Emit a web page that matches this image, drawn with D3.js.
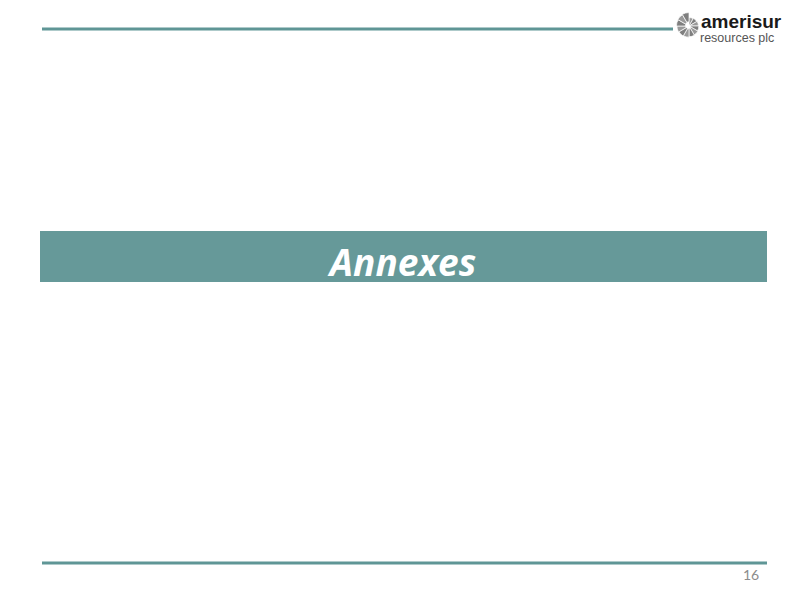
<!DOCTYPE html>
<html lang="en">
<head>
    <meta charset="UTF-8">
    <title>Annexes</title>
    <script src="https://cdn.jsdelivr.net/npm/d3@7"></script>
    <style>
        body { margin: 0; background: #fff; }
    </style>
</head>
<body>
    <svg width="800" height="600"></svg>
    <script>
        // slide content
        const title = ['Annexes']
        const pageNumber = ['16']
        const logoWords = ['amerisur', 'resources plc']
        const shellSegments = [0, 1, 2, 3, 4, 5, 6, 7, 8, 9, 10, 11]

        const teal = '#669999'
        const svg = d3.select('svg')

        // top and bottom rules
        const rules = [
            { x1: 42, x2: 673, y: 29 },
            { x1: 42, x2: 767, y: 563 }
        ]
        svg.selectAll('line.rule')
            .data(rules)
            .join('line')
            .attr('class', 'rule')
            .attr('x1', d => d.x1)
            .attr('x2', d => d.x2)
            .attr('y1', d => d.y)
            .attr('y2', d => d.y)
            .attr('stroke', '#5f9696')
            .attr('stroke-width', 3)

        // banner
        svg.append('rect')
            .attr('x', 40)
            .attr('y', 231)
            .attr('width', 727)
            .attr('height', 51)
            .attr('fill', teal)

        svg.selectAll('text.title')
            .data(title)
            .join('text')
            .attr('class', 'title')
            .attr('x', 403)
            .attr('y', 276)
            .attr('text-anchor', 'middle')
            .attr('fill', '#fff')
            .attr('font-family', 'Open Sans, Lato, sans-serif')
            .attr('font-weight', 'bold')
            .attr('font-style', 'italic')
            .attr('font-size', 37)
            .text(d => d)

        // page number
        svg.selectAll('text.page')
            .data(pageNumber)
            .join('text')
            .attr('class', 'page')
            .attr('x', 751)
            .attr('y', 580)
            .attr('text-anchor', 'middle')
            .attr('fill', '#8c8c8c')
            .attr('font-family', 'Lato, Open Sans, sans-serif')
            .attr('font-size', 14)
            .text(d => d)

        // logo: shell made of arc segments
        const step = 2 * Math.PI / shellSegments.length
        const arc = d3.arc()
        const shell = svg.append('g').attr('transform', 'translate(689,26)')
        shell.selectAll('path')
            .data(shellSegments)
            .join('path')
            .attr('d', i => arc({
                innerRadius: 1 + i * 0.3,
                outerRadius: 8.5 + i * 0.45,
                startAngle: i * step,
                endAngle: (i + 1) * step
            }))
            .attr('fill', (d, i) => i % 2 ? '#7f7f7f' : '#9a9a9a')
            .attr('stroke', 'white')
            .attr('stroke-width', 0.7)

        svg.append('text')
            .attr('x', 701)
            .attr('y', 28)
            .attr('fill', '#1a1a1a')
            .attr('font-family', 'Liberation Sans, Arial, sans-serif')
            .attr('font-weight', 'bold')
            .attr('font-size', 19)
            .text(logoWords[0])

        svg.append('text')
            .attr('x', 700)
            .attr('y', 42)
            .attr('fill', '#555')
            .attr('font-family', 'Liberation Sans, Arial, sans-serif')
            .attr('font-size', 12.5)
            .text(logoWords[1])
    </script>
</body>
</html>
